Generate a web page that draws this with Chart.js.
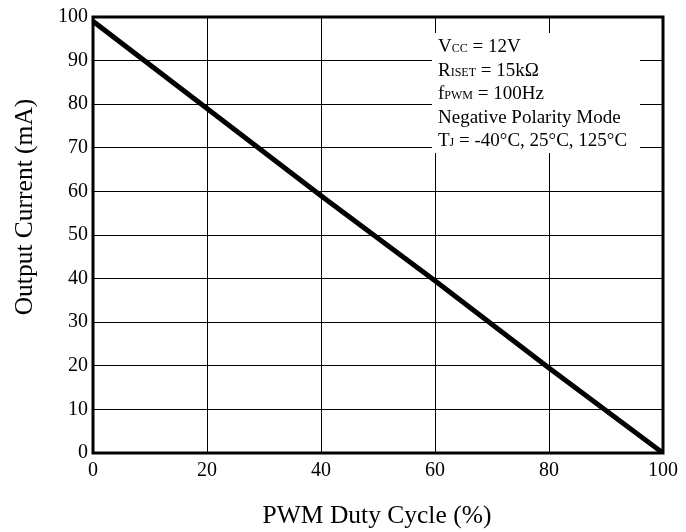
<!DOCTYPE html>
<html>
<head>
<meta charset="utf-8">
<script src="https://cdn.jsdelivr.net/npm/chart.js@4/dist/chart.umd.min.js"></script>
<style>
  html, body { margin: 0; padding: 0; background: #fff; }
  #wrap { width: 686px; height: 532px; }
</style>
</head>
<body>
<div id="wrap"><canvas id="myChart" width="686" height="532"></canvas></div>
<script>
const dutyCycle = [0, 20, 40, 60, 80, 100];
const outputCurrent = [99, 79, 59, 39.5, 19.5, 0];
const xTitle = "PWM Duty Cycle (%)";
const yTitle = "Output Current (mA)";
const noteLines = [
  [["V", "main"], ["CC", "sub"], [" = 12V", "main"]],
  [["R", "main"], ["ISET", "sub"], [" = 15kΩ", "main"]],
  [["f", "main"], ["PWM", "sub"], [" = 100Hz", "main"]],
  [["Negative Polarity Mode", "main"]],
  [["T", "main"], ["J", "sub"], [" = -40°C, 25°C, 125°C", "main"]],
];

const serif = "'Liberation Serif', 'Times New Roman', serif";

// note box, frame and axis titles
const framePlugin = {
  id: "frame",
  beforeDatasetsDraw(chart) {
    const { ctx } = chart;
    ctx.save();
    // note box covers grid lines
    ctx.fillStyle = "#fff";
    ctx.fillRect(432, 33, 208, 120);
    ctx.fillStyle = "#000";
    ctx.textBaseline = "alphabetic";
    let y = 52;
    noteLines.forEach(line => {
      let x = 438;
      line.forEach(([txt, kind]) => {
        ctx.font = (kind === "sub" ? "12px " : "19px ") + serif;
        ctx.fillText(txt, x, y);
        x += ctx.measureText(txt).width;
      });
      y += 23.5;
    });
    ctx.restore();
  },
  afterDraw(chart) {
    const { ctx, chartArea: a } = chart;
    ctx.save();
    ctx.strokeStyle = "#000";
    ctx.lineWidth = 3;
    ctx.strokeRect(a.left, a.top, a.right - a.left, a.bottom - a.top);

    ctx.fillStyle = "#000";
    ctx.font = "25.5px " + serif;
    ctx.textAlign = "center";
    ctx.textBaseline = "alphabetic";
    ctx.fillText(xTitle, (a.left + a.right) / 2 - 1, 523);
    ctx.translate(31.5, 207);
    ctx.rotate(-Math.PI / 2);
    ctx.fillText(yTitle, 0, 0);
    ctx.restore();
  }
};

new Chart(document.getElementById("myChart").getContext("2d"), {
  type: "scatter",
  data: {
    datasets: [{
      data: dutyCycle.map((x, i) => ({ x: x, y: outputCurrent[i] })),
      showLine: true,
      borderColor: "#000",
      borderWidth: 5,
      pointRadius: 0,
      fill: false,
    }]
  },
  options: {
    responsive: false,
    animation: false,
    layout: { padding: { left: 0, right: 23, top: 16, bottom: 0 } },
    plugins: { legend: { display: false }, tooltip: { enabled: false } },
    scales: {
      x: {
        type: "linear",
        min: 0, max: 100,
        afterFit(scale) { scale.height = 79; },
        ticks: { stepSize: 20, color: "#000", padding: 6, font: { family: serif, size: 20 } },
        grid: { color: "#000", lineWidth: 1, drawTicks: false },
        border: { display: false }
      },
      y: {
        type: "linear",
        min: 0, max: 100,
        afterFit(scale) { scale.width = 93; },
        ticks: { stepSize: 10, color: "#000", padding: 5, font: { family: serif, size: 20 } },
        grid: { color: "#000", lineWidth: 1, drawTicks: false },
        border: { display: false }
      }
    }
  },
  plugins: [framePlugin]
});
</script>
</body>
</html>
